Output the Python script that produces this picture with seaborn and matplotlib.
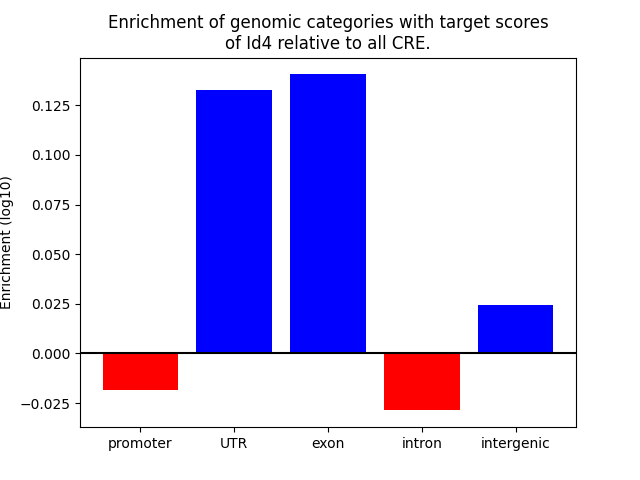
import matplotlib
matplotlib.use("Agg")
import matplotlib.pyplot as plt
import seaborn as sns

# Enrichment values
categories = ["promoter", "UTR", "exon", "intron", "intergenic"]
enrichment = [-0.0185, 0.1326, 0.1406, -0.0287, 0.0242]
bar_colors = ["red" if v < 0 else "blue" for v in enrichment]

fig, ax = plt.subplots(figsize=(6.4, 4.8), dpi=100)
sns.barplot(x=categories, y=enrichment, hue=categories, palette=bar_colors,
            saturation=1, width=0.8, legend=False, ax=ax)

# go back to matplotlib's own x limits with default margins
ax.autoscale(enable=True, axis="x")

ax.axhline(0, color="black", linewidth=1.5)
ax.set_ylabel("Enrichment (log10)")
ax.set_xlabel("")
ax.set_title("Enrichment of genomic categories with target scores\nof Id4 relative to all CRE.")

fig.savefig("out.png", dpi=100)
